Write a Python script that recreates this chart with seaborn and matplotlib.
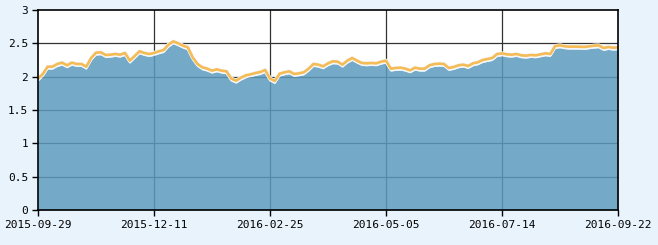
import matplotlib
matplotlib.use("Agg")
import matplotlib.pyplot as plt
import matplotlib.patheffects as pe
import seaborn as sns
import numpy as np
import pandas as pd

tick_labels = ["2015-09-29", "2015-12-11", "2016-02-25", "2016-05-05", "2016-07-14", "2016-09-22"]
tick_pos = [0, 24, 48, 72, 96, 120]

acc_nav = [1.97, 2.04, 2.15, 2.15, 2.19, 2.21, 2.17, 2.21, 2.19, 2.19,
           2.15, 2.28, 2.36, 2.365, 2.325, 2.33, 2.34, 2.33, 2.355, 2.24,
           2.31, 2.38, 2.355, 2.34, 2.355, 2.38, 2.40, 2.48, 2.53, 2.50,
           2.465, 2.44, 2.29, 2.19, 2.14, 2.12, 2.09, 2.11, 2.09, 2.08,
           1.97, 1.94, 1.985, 2.02, 2.035, 2.055, 2.07, 2.10, 1.97, 1.935,
           2.045, 2.065, 2.08, 2.04, 2.05, 2.065, 2.12, 2.19, 2.18, 2.155,
           2.20, 2.23, 2.225, 2.18, 2.24, 2.28, 2.24, 2.205, 2.20, 2.205,
           2.20, 2.225, 2.24, 2.12, 2.13, 2.135, 2.12, 2.095, 2.135, 2.12,
           2.12, 2.17, 2.19, 2.195, 2.19, 2.13, 2.145, 2.17, 2.18, 2.16,
           2.20, 2.215, 2.25, 2.265, 2.28, 2.34, 2.35, 2.335, 2.33, 2.34,
           2.32, 2.315, 2.325, 2.32, 2.335, 2.35, 2.34, 2.46, 2.47, 2.455,
           2.45, 2.45, 2.45, 2.445, 2.455, 2.465, 2.47, 2.43, 2.445, 2.435,
           2.44]

unit_nav = [1.935, 2.005, 2.115, 2.115, 2.155, 2.175, 2.135, 2.175, 2.155, 2.155,
            2.115, 2.245, 2.325, 2.33, 2.29, 2.295, 2.305, 2.295, 2.32, 2.205,
            2.275, 2.345, 2.32, 2.305, 2.32, 2.345, 2.365, 2.445, 2.495, 2.465,
            2.43, 2.405, 2.255, 2.155, 2.105, 2.085, 2.055, 2.075, 2.055, 2.045,
            1.935, 1.905, 1.95, 1.985, 2.0, 2.02, 2.035, 2.065, 1.935, 1.90,
            2.01, 2.03, 2.045, 2.005, 2.015, 2.03, 2.085, 2.155, 2.145, 2.12,
            2.165, 2.195, 2.19, 2.145, 2.205, 2.245, 2.205, 2.17, 2.165, 2.17,
            2.165, 2.19, 2.205, 2.085, 2.095, 2.10, 2.085, 2.06, 2.10, 2.085,
            2.085, 2.135, 2.155, 2.16, 2.155, 2.095, 2.11, 2.135, 2.145, 2.125,
            2.165, 2.18, 2.215, 2.23, 2.245, 2.305, 2.315, 2.30, 2.295, 2.305,
            2.285, 2.28, 2.29, 2.285, 2.30, 2.315, 2.305, 2.425, 2.435, 2.42,
            2.415, 2.415, 2.415, 2.41, 2.42, 2.43, 2.435, 2.395, 2.41, 2.40,
            2.405]

y_ticks = [0, 0.5, 1, 1.5, 2, 2.5, 3]
y_labels = ["0", "0.5", "1", "1.5", "2", "2.5", "3"]

df = pd.DataFrame({"idx": np.arange(len(unit_nav)), "unit": unit_nav, "acc": acc_nav})

sns.set_style("white")
plt.rcParams["font.family"] = ["DejaVu Sans Mono", "DejaVu Sans"]

bg = "#e8f3fb"
fig = plt.figure(figsize=(6.58, 2.45), dpi=100, facecolor=bg)
ax = fig.add_axes([38 / 658, 1 - 210 / 245, 580 / 658, 200 / 245])
ax.set_facecolor("white")

# grid behind
for yv in y_ticks[1:-1]:
    ax.axhline(yv, color="#333333", lw=0.9, zorder=0)
for xv in tick_pos[1:-1]:
    ax.axvline(xv, color="#333333", lw=0.9, zorder=0)

ax.fill_between(df["idx"], 0, df["unit"], color=(92 / 255, 154 / 255, 189 / 255), alpha=0.85, lw=0, zorder=1)
sns.lineplot(data=df, x="idx", y="unit", ax=ax, color="#f2f7fb", lw=0.9, zorder=2)
sns.lineplot(data=df, x="idx", y="acc", ax=ax, color="#f5bb55", lw=1.9, zorder=3,
             path_effects=[pe.Stroke(linewidth=2.9, foreground="#f3f7fa"), pe.Normal()])

ax.set_xlim(0, len(unit_nav) - 1)
ax.set_ylim(0, 3)
ax.set_xticks(tick_pos)
ax.set_xticklabels(tick_labels)
ax.set_yticks(y_ticks)
ax.set_yticklabels(y_labels)
ax.set_xlabel("")
ax.set_ylabel("")
ax.tick_params(axis="both", which="both", direction="out", length=4, width=1, color="black",
               labelsize=8, labelcolor="black", bottom=True, left=True, pad=3)
for s in ax.spines.values():
    s.set_color("black")
    s.set_linewidth(1.2)
    s.set_zorder(5)

fig.savefig("out.png", dpi=100, facecolor=bg)
